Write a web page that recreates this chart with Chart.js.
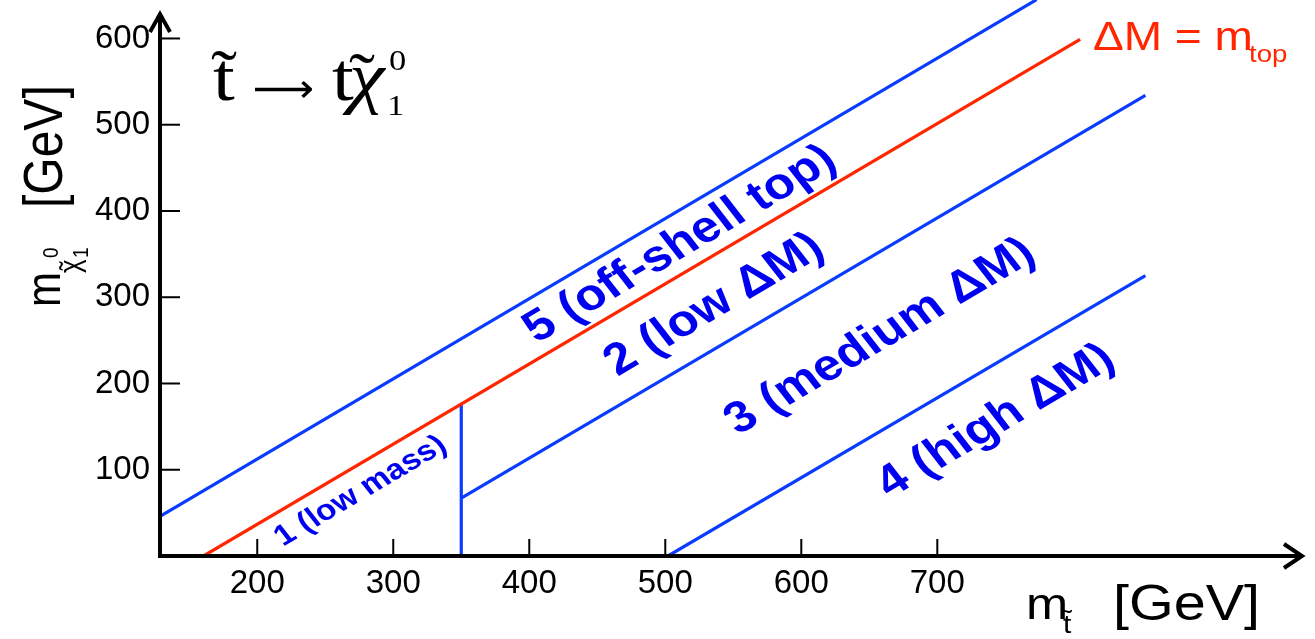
<!DOCTYPE html>
<html><head><meta charset="utf-8">
<script src="https://cdn.jsdelivr.net/npm/chart.js@4.4.1/dist/chart.umd.min.js"></script>
<style>html,body{margin:0;padding:0;background:#fff;overflow:hidden}canvas{display:block}</style>
</head><body>
<canvas id="c" width="1315" height="639"></canvas>
<script>
// ---- data (GeV) ----
const xTickValues = [200, 300, 400, 500, 600, 700];
const yTickValues = [100, 200, 300, 400, 500, 600];
const offShellX = [128.5, 773];   const offShellY = [45.9, 645];
const mTopX = [160.5, 805];       const mTopY = [0, 599];
const lowMassEdgeX = [350, 350];  const lowMassEdgeY = [0, 175];
const mediumEdgeX = [350, 853];   const mediumEdgeY = [67, 534];
const highEdgeX = [502, 853];     const highEdgeY = [0, 325];
const regionNames = ["5 (off-shell top)", "2 (low \u0394M)", "3 (medium \u0394M)", "4 (high \u0394M)", "1 (low mass)"];
const regionX = [511, 536, 658, 743, 276];
const regionY = [361, 291, 254, 156, 75];

const BLUE = '#0a3cff', RED = '#ff2600', TXTBLUE = '#0000f0';
const SX = 1.15;
const pts = (xs, ys) => xs.map((x, i) => ({x, y: ys[i]}));
const ds = (xs, ys, c) => ({data: pts(xs, ys), showLine: true, borderColor: c, backgroundColor: c, borderWidth: 3.2, pointRadius: 0, fill: false, tension: 0});

function txt(ctx, s, x, y, o) {
  ctx.save();
  ctx.translate(x, y);
  ctx.scale(o.sx || 1, 1);
  if (o.rot) ctx.rotate(o.rot);
  ctx.font = o.font; ctx.fillStyle = o.color || '#000';
  ctx.textAlign = o.align || 'left'; ctx.textBaseline = o.baseline || 'alphabetic';
  if (o.fitW) {
    const m = ctx.measureText(s);
    const w = m.actualBoundingBoxRight + m.actualBoundingBoxLeft;
    ctx.scale(o.fitW / w / (o.sx || 1), 1);
    ctx.fillText(s, m.actualBoundingBoxLeft, 0);
  } else ctx.fillText(s, 0, 0);
  ctx.restore();
}

const decor = {
  id: 'decor',
  afterDraw(chart) {
    const ctx = chart.ctx, xs = chart.scales.x, ys = chart.scales.y, a = chart.chartArea;
    const L = a.left, B = a.bottom;
    ctx.save();
    ctx.strokeStyle = '#000'; ctx.lineCap = 'butt';
    ctx.lineWidth = 2;
    xTickValues.forEach(v => { const p = xs.getPixelForValue(v); ctx.beginPath(); ctx.moveTo(p, B); ctx.lineTo(p, B - 17); ctx.stroke(); });
    yTickValues.forEach(v => { const p = ys.getPixelForValue(v); ctx.beginPath(); ctx.moveTo(L, p); ctx.lineTo(L + 20, p); ctx.stroke(); });
    ctx.lineWidth = 4;
    ctx.beginPath(); ctx.moveTo(L - 2, B); ctx.lineTo(1301, B); ctx.stroke();
    ctx.beginPath(); ctx.moveTo(L, B + 2); ctx.lineTo(L, 15); ctx.stroke();
    ctx.lineJoin = 'miter';
    ctx.beginPath(); ctx.moveTo(1284, B - 12); ctx.lineTo(1302, B); ctx.lineTo(1284, B + 12); ctx.stroke();
    ctx.beginPath(); ctx.moveTo(L - 10, 32); ctx.lineTo(L, 14); ctx.lineTo(L + 10, 32); ctx.stroke();
    ctx.restore();

    const p1x = xs.getPixelForValue(mTopX[0]), p1y = ys.getPixelForValue(mTopY[0]);
    const p2x = xs.getPixelForValue(mTopX[1]), p2y = ys.getPixelForValue(mTopY[1]);
    const rot = Math.atan2(p2y - p1y, (p2x - p1x) / SX);
    regionNames.forEach((s, i) => {
      const size = i === 4 ? 29 : 44;
      txt(ctx, s, xs.getPixelForValue(regionX[i]), ys.getPixelForValue(regionY[i]),
        {font: `bold ${size}px "Liberation Sans", Arial, sans-serif`, color: TXTBLUE, align: 'center', baseline: 'middle', sx: SX, rot});
    });

    const sans = '"Liberation Sans", Arial, sans-serif';
    txt(ctx, '\u0394M = m', 1093, 50, {font: `40px ${sans}`, color: RED, sx: SX});
    txt(ctx, 'top', 1249, 62, {font: `24px ${sans}`, color: RED, sx: SX});

    const serif = '"Liberation Serif", "Times New Roman", serif';
    txt(ctx, 't', 213, 100, {font: `68px ${serif}`, sx: SX});
    txt(ctx, '\u02DC', 224, 97, {font: `68px ${serif}`, sx: SX, align: 'center'});
    txt(ctx, '\u27F6', 255, 102, {font: `40px "DejaVu Sans", sans-serif`, fitW: 58});
    txt(ctx, 't', 332, 100, {font: `68px ${serif}`, sx: SX});
    txt(ctx, '\u03C7', 349, 100, {font: `italic 70px ${serif}`, sx: SX});
    txt(ctx, '\u02DC', 362, 100, {font: `68px ${serif}`, sx: SX, align: 'center'});
    txt(ctx, '0', 389, 70, {font: `30px ${serif}`, sx: SX});
    txt(ctx, '1', 387, 115, {font: `30px ${serif}`, sx: SX});

    txt(ctx, 'm', 1026, 619, {font: `44px ${sans}`, sx: SX});
    txt(ctx, 't', 1063, 633, {font: `26px ${sans}`, sx: SX});
    txt(ctx, '\u02DC', 1067, 628, {font: `26px ${sans}`, sx: SX, align: 'center'});
    txt(ctx, '[GeV]', 1113, 620, {font: `50px ${sans}`, sx: SX});

    const r = -Math.PI / 2;
    txt(ctx, 'm', 60, 307, {font: `42px ${sans}`, sx: SX, rot: r});
    txt(ctx, '\u03C7', 80, 273, {font: `26px ${sans}`, sx: SX, rot: r});
    txt(ctx, '\u02DC', 80, 266, {font: `26px ${sans}`, sx: SX, rot: r, align: 'center'});
    txt(ctx, '0', 58, 258, {font: `19px ${sans}`, sx: SX, rot: r});
    txt(ctx, '1', 88, 258, {font: `19px ${sans}`, sx: SX, rot: r});
    txt(ctx, '[GeV]', 62, 208, {font: `48px ${sans}`, sx: SX, rot: r});
  }
};

const tickFont = {family: '"Liberation Sans", Arial, sans-serif', size: 33};
new Chart(document.getElementById('c'), {
  type: 'scatter',
  data: {datasets: [
    ds(offShellX, offShellY, BLUE),
    ds(mTopX, mTopY, RED),
    ds(lowMassEdgeX, lowMassEdgeY, BLUE),
    ds(mediumEdgeX, mediumEdgeY, BLUE),
    ds(highEdgeX, highEdgeY, BLUE)
  ]},
  options: {
    responsive: false, animation: false, devicePixelRatio: 1,
    layout: {padding: 0},
    plugins: {legend: {display: false}, tooltip: {enabled: false}, title: {display: false}},
    scales: {
      x: {type: 'linear', min: 128.5, max: 977.7,
        afterFit: s => { s.height = 83; s.paddingLeft = 0; s.paddingRight = 0; },
        afterBuildTicks: s => { s.ticks = xTickValues.map(v => ({value: v})); },
        grid: {display: false, drawTicks: false}, border: {display: false},
        ticks: {font: tickFont, color: '#000', padding: 8, maxRotation: 0, autoSkip: false}},
      y: {type: 'linear', min: 0, max: 644.6,
        afterFit: s => { s.width = 160; s.paddingTop = 0; s.paddingBottom = 0; },
        afterBuildTicks: s => { s.ticks = yTickValues.map(v => ({value: v})); },
        grid: {display: false, drawTicks: false}, border: {display: false},
        ticks: {font: tickFont, color: '#000', padding: 10, autoSkip: false}}
    }
  },
  plugins: [decor]
});
</script>
</body></html>
